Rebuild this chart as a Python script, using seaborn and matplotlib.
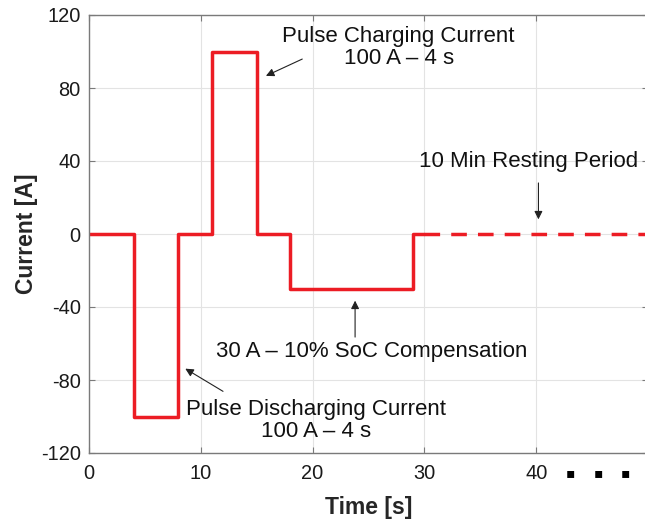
import matplotlib
matplotlib.use("Agg")
import matplotlib.pyplot as plt
import seaborn as sns
import pandas as pd

# ---- data ----
time_profile = [0, 4, 4, 8, 8, 11, 11, 15, 15, 18, 18, 29, 29, 30]
current_profile = [0, 0, -100, -100, 0, 0, 100, 100, 0, 0, -30, -30, 0, 0]
time_rest = [30, 50]
current_rest = [0, 0]
x_ticks = [0, 10, 20, 30, 40]
y_ticks = [-120, -80, -40, 0, 40, 80, 120]

sns.set_style("ticks")
plt.rcParams['font.family'] = ['Liberation Sans', 'DejaVu Sans']
plt.rcParams['axes.unicode_minus'] = False

RED = "#ec1c24"

fig = plt.figure(figsize=(6.45, 5.2), dpi=100)
ax = fig.add_axes([89/645, 1 - 453/520, (648 - 89)/645, (453 - 15)/520])

df1 = pd.DataFrame({"t": time_profile, "i": current_profile})
df2 = pd.DataFrame({"t": time_rest, "i": current_rest})
sns.lineplot(data=df1, x="t", y="i", ax=ax, color=RED, lw=2.5,
             estimator=None, sort=False)
sns.lineplot(data=df2, x="t", y="i", ax=ax, color=RED, lw=2.5,
             estimator=None, sort=False, linestyle=(0, (4.5, 3.2)))

ax.set_xlim(0, 50)
ax.set_ylim(-120, 120)
ax.set_xticks(x_ticks)
ax.set_yticks(y_ticks)
ax.grid(True, color="#e3e3e3", lw=0.8)
ax.set_axisbelow(True)
for s in ax.spines.values():
    s.set_color("#7a7a7a")
    s.set_linewidth(1.0)
ax.tick_params(direction="in", length=4, width=0.8, color="#7a7a7a",
               top=True, right=True, labelsize=14.4, labelcolor="#1a1a1a")
ax.tick_params(axis="y", pad=6)
ax.tick_params(axis="x", pad=8)

ax.set_xlabel("Time [s]", fontsize=16.5, fontweight="bold", labelpad=9)
ax.set_ylabel("Current [A]", fontsize=16.5, fontweight="bold", labelpad=2)

fs = 16
ak = dict(arrowstyle="-|>", color="#222222", lw=0.8, mutation_scale=12)
ax.annotate("", xy=(15.6, 86), xytext=(19.3, 96.5), arrowprops=ak)
ax.text(27.7, 102, "Pulse Charging Current\n100 A \u2013 4 s", fontsize=fs,
        ha="center", va="center", linespacing=1.05, color="#111111")

ax.annotate("", xy=(40.2, 6.5), xytext=(40.2, 29.5), arrowprops=ak)
ax.text(39.3, 39.5, "10 Min Resting Period", fontsize=fs, ha="center",
        va="center", color="#111111")

ax.annotate("", xy=(23.8, -35), xytext=(23.8, -58), arrowprops=ak)
ax.text(25.3, -64.5, "30 A \u2013 10% SoC Compensation", fontsize=fs,
        ha="center", va="center", color="#111111")

ax.annotate("", xy=(8.4, -73), xytext=(12.2, -87), arrowprops=ak)
ax.text(20.3, -102, "Pulse Discharging Current\n100 A \u2013 4 s", fontsize=fs,
        ha="center", va="center", linespacing=1.05, color="#111111")

for px in (570, 598, 625):
    fig.text(px/645, 1 - 473/520, "\u25aa", fontsize=10,
             ha="center", va="center", color="black", family=['DejaVu Sans'])

fig.savefig("out.png", dpi=100)
